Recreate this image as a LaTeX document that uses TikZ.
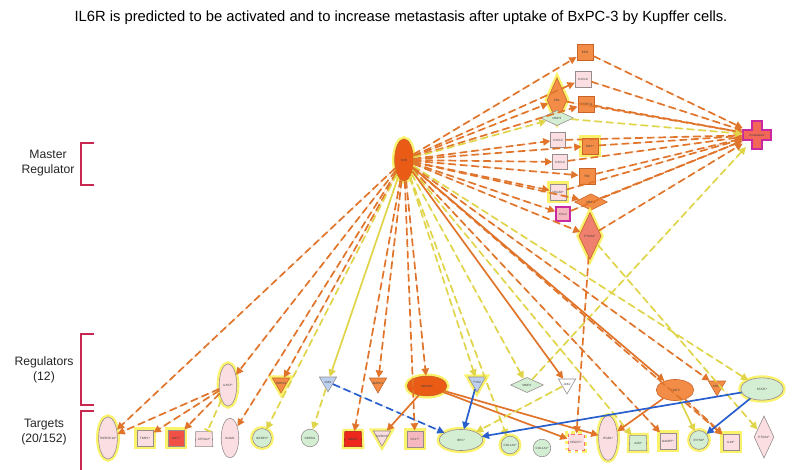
\documentclass[tikz,border=0pt]{standalone}
\usepackage{fontspec}
\setmainfont{Liberation Sans}
\usetikzlibrary{shapes.geometric,arrows.meta}
\definecolor{eorange}{RGB}{224,116,42}
\definecolor{eyellow}{RGB}{224,212,72}
\definecolor{eblue}{RGB}{40,95,205}
\definecolor{glowc}{RGB}{250,240,80}
\definecolor{forange}{RGB}{242,140,70}
\definecolor{fdark}{RGB}{234,92,22}
\definecolor{fpink}{RGB}{250,222,226}
\definecolor{fpink2}{RGB}{246,184,192}
\definecolor{fgreen}{RGB}{212,238,212}
\definecolor{fblue}{RGB}{188,208,240}
\definecolor{fred}{RGB}{240,80,70}
\definecolor{fred2}{RGB}{238,40,28}
\definecolor{fsalmon}{RGB}{240,128,110}
\definecolor{bmag}{RGB}{200,40,160}
\definecolor{bgrey}{RGB}{150,140,140}
\definecolor{borange}{RGB}{200,100,40}
\definecolor{bracketc}{RGB}{200,40,80}
\newcommand{\zb}[1]{\makebox[0pt]{#1}}
\tikzset{
  nd/.style={draw=bgrey, line width=0.5pt, inner sep=0pt, font=\fontsize{2.6}{3}\selectfont, text=black!75},
  glow/.style={preaction={draw=glowc, line width=4.4pt, draw opacity=0.85}},
  sqr/.style={nd, rectangle, minimum size=#1},
  sqr/.default=13.5pt,
  ell/.style 2 args={nd, ellipse, minimum width=#1, minimum height=#2},
  dia/.style 2 args={nd, diamond, minimum width=#1, minimum height=#2},
  tri/.style={nd, regular polygon, regular polygon sides=3, shape border rotate=180, minimum size=17pt},
  trap/.style={nd, trapezium, trapezium angle=74, trapezium stretches body=true, minimum width=15pt, minimum height=13pt},
  circ/.style={nd, circle, minimum size=15pt},
  ob/.style={draw=borange, fill=forange},
  edg/.style={line width=1.45pt, -{Triangle[length=6.2pt,width=6.2pt]}},
  od/.style={edg, draw=eorange, fill=eorange, dash pattern=on 6.5pt off 3.4pt},
  os/.style={edg, draw=eorange, fill=eorange},
  yd/.style={edg, draw=eyellow, fill=eyellow, dash pattern=on 6.5pt off 3.4pt},
  ys/.style={edg, draw=eyellow, fill=eyellow},
  bs/.style={edg, draw=eblue, fill=eblue},
  bd/.style={edg, draw=eblue, fill=eblue, dash pattern=on 6.5pt off 3.4pt},
  brk/.style={draw=bracketc, line width=1.2pt},
  lbl/.style={font=\fontsize{10.4}{12.4}\selectfont, align=center, text=black!85}
}
\begin{document}
\begin{tikzpicture}[x=0.3mm,y=-0.3mm]
\useasboundingbox[fill=white] (0,0) rectangle (800,470);
\node[font=\fontsize{12.6}{14}\selectfont] (title) at (401,18) {IL6R is predicted to be activated and to increase metastasis after uptake of BxPC-3 by Kupffer cells.};
% left labels
\node[lbl] (lm) at (48,163) {Master\\Regulator};
\node[lbl] (lr) at (44,370) {Regulators\\(12)};
\node[lbl] (lt) at (44,432) {Targets\\(20/152)};
\draw[brk] (94,143) -- (81,143) -- (81,185) -- (94,185);
\draw[brk] (94,334) -- (81,334) -- (81,405) -- (94,405);
\draw[brk] (94,411) -- (81,411) -- (81,470);
% master
\node[nd, ellipse, minimum width=16pt, minimum height=36pt, glow, draw=borange, fill=fdark] (M) at (404,160) {\zb{IL6R}};
% upper cluster
\node[sqr=14pt, ob] (EPO) at (585,52) {\zb{EPO}};
\node[dia={17pt}{38pt}, ob, glow] (FN1) at (557,100) {\zb{FN1}};
\node[sqr, fill=fpink] (CXCL8) at (583,79) {\zb{CXCL8}};
\node[sqr=14pt, ob] (TNFSF) at (586,104) {\zb{TNFSF11}};
\node[dia={28pt}{13pt}, fill=fgreen] (MMP3) at (557,118) {\zb{MMP3}};
\node[sqr=12.5pt, fill=fpink] (CXCL5) at (558,140) {\zb{CXCL5}};
\node[sqr=14pt, ob, glow] (IGF1) at (590,146) {\zb{IGF1*}};
\node[sqr=12.5pt, fill=fpink] (CXCL6) at (560,162) {\zb{CXCL6}};
\node[sqr=14pt, ob] (TNF) at (587,176) {\zb{TNF}};
\node[sqr=14pt, fill=fpink, glow] (VEGFA) at (558,192) {\zb{VEGFA*}};
\node[dia={28pt}{14pt}, ob] (MMP9) at (591,202) {\zb{MMP9}};
\node[sqr=12pt, fill=fpink2, draw=bmag, line width=1.1pt] (CCL2) at (563,214) {\zb{CCL2}};
\node[dia={19pt}{40pt}, fill=fsalmon, draw=borange, glow] (PTGS2) at (590,236) {\zb{PTGS2*}};
% metastasis
\fill[fsalmon!80!red, draw=bmag, line width=1.2pt] (752,121) -- (762,121) -- (762,130) -- (771,130) -- (771,140) -- (762,140) -- (762,149) -- (752,149) -- (752,140) -- (743,140) -- (743,130) -- (752,130) -- cycle;
\node[nd, draw=none, minimum width=24pt, minimum height=20pt] (MET) at (757,135) {\zb{metastasis}};
% regulators
\node[ell={15pt}{36pt}, fill=fpink, glow] (IL6ST) at (228,385) {\zb{IL6ST*}};
\node[tri, ob, glow] (SOCS3) at (281,383) {\zb{SOCS3}};
\node[tri, fill=fblue] (JAK1) at (328,382) {\zb{JAK1}};
\node[tri, ob] (MAPK1) at (378,383) {\zb{MAPK1}};
\node[ell={34pt}{17pt}, draw=borange, fill=fdark, glow] (SMAD3) at (427,386) {\zb{SMAD3*}};
\node[tri, fill=fblue, glow] (TYK2) at (477,382) {\zb{TYK2}};
\node[dia={28pt}{13pt}, fill=fgreen] (MMP2) at (527,385) {\zb{MMP2}};
\node[tri, fill=white] (JAK2) at (567,384) {\zb{JAK2}};
\node[ell={32pt}{18pt}, ob] (STAT3) at (675,390) {\zb{STAT3}};
\node[tri, ob] (CDK2) at (717,386) {\zb{CDK2}};
\node[ell={36pt}{19pt}, fill=fgreen, glow] (STAT1) at (762,389) {\zb{STAT1*}};
% targets
\node[ell={16pt}{36pt}, fill=fpink, glow] (TNFR) at (108,438) {\zb{TNFRSF1A*}};
\node[sqr=14pt, fill=fpink, glow] (TIMP1) at (145,438) {\zb{TIMP1*}};
\node[sqr=14pt, fill=fred, glow] (HIF1) at (176,438) {\zb{HIF1*}};
\node[trap, fill=fpink] (ATP) at (204,439) {\zb{ATP2A2*}};
\node[ell={15pt}{34pt}, fill=fpink] (ICAM1) at (230,438) {\zb{ICAM1}};
\node[circ, minimum size=16pt, fill=fgreen, glow] (IGFBP3) at (262,438) {\zb{IGFBP3*}};
\node[circ, fill=fgreen] (GREM1) at (310,438) {\zb{GREM1}};
\node[trap, fill=fred2, draw=fred2!70!black, glow] (SMAD7) at (353,439) {\zb{SMAD7}};
\node[tri, fill=fpink, glow] (TGFBR1) at (382,436) {\zb{TGFBR1*}};
\node[sqr=14pt, fill=fpink2, glow] (CCL7) at (415,439) {\zb{CCL7*}};
\node[ell={37pt}{18pt}, fill=fgreen, glow] (IRF1) at (461,440) {\zb{IRF1*}};
\node[circ, fill=fgreen, glow] (COL1A2) at (510,445) {\zb{COL1A2*}};
\node[circ, fill=fgreen] (COL1A1) at (542,448) {\zb{COL1A1*}};
\node[sqr=14pt, fill=fpink, draw=fpink2!60!red, dashed, glow] (VEGFC) at (576,442) {\zb{VEGFC*}};
\node[ell={16pt}{38pt}, fill=fpink, glow] (ITGB1) at (608,438) {\zb{ITGB1*}};
\node[trap, fill=fgreen, glow] (A2M) at (638,443) {\zb{A2M*}};
\node[sqr=14pt, fill=fpink, glow] (NAMPT) at (668,441) {\zb{NAMPT*}};
\node[circ, minimum size=16pt, fill=fgreen, glow] (IFITM2) at (699,440) {\zb{IFITM2*}};
\node[sqr=14pt, fill=fpink, glow] (IL18) at (731,442) {\zb{IL18*}};
\node[dia={17pt}{36pt}, fill=fpink] (PTGS1) at (764,437) {\zb{PTGS1*}};
% ---- edges: master to upper cluster
\foreach \t in {EPO,CXCL8,TNFSF,FN1,CXCL5,IGF1,CXCL6,TNF,VEGFA,MMP9,CCL2,PTGS2}
  \draw[od] (M) -- (\t);
\draw[yd] (M) -- (MMP3);
% upper cluster to metastasis
\foreach \t in {EPO,CXCL8,TNFSF,FN1,CXCL5,IGF1,CXCL6,TNF,VEGFA,MMP9,CCL2,PTGS2}
  \draw[od] (\t) -- (MET);
\draw[yd] (MMP3) -- (MET);
\draw[yd] (MMP2) -- (MET);
% master to regulators / targets
\foreach \t in {TNFR,IL6ST,ICAM1,SOCS3,SMAD7,MAPK1,CCL7,SMAD3,NAMPT,CDK2,IL18}
  \draw[od] (M) -- (\t);
\foreach \t in {IGFBP3,TYK2,COL1A2,MMP2,A2M,STAT1}
  \draw[yd] (M) -- (\t);
\draw[ys] (M) -- (JAK1);
\draw[os] (M) -- (JAK2);
\draw[os] (M) -- (STAT3);
\draw[od] (PTGS2) -- (VEGFC);
\draw[yd] (PTGS2) -- (PTGS1);
% regulators to targets
\draw[od] (IL6ST) -- (TNFR);
\draw[od] (IL6ST) -- (TIMP1);
\draw[od] (IL6ST) -- (HIF1);
\draw[draw=eyellow, line width=1.45pt, dash pattern=on 6.5pt off 3.4pt, -{Bar[width=6pt]}] (IL6ST) -- (ATP);
\draw[yd] (JAK1) -- (GREM1);
\draw[bd] (JAK1) -- (IRF1);
\draw[os] (SMAD3) -- (TGFBR1);
\draw[os] (SMAD3) -- (VEGFC);
\draw[os] (SMAD3) -- (ITGB1);
\draw[bs] (TYK2) -- (IRF1);
\draw[yd] (JAK2) -- (IRF1);
\draw[os] (STAT3) -- (ITGB1);
\draw[ys] (STAT3) -- (IFITM2);
\draw[od] (STAT3) -- (IL18);
\draw[bs] (STAT1) -- (IRF1);
\draw[bs] (STAT1) -- (IFITM2);
\end{tikzpicture}
\end{document}
